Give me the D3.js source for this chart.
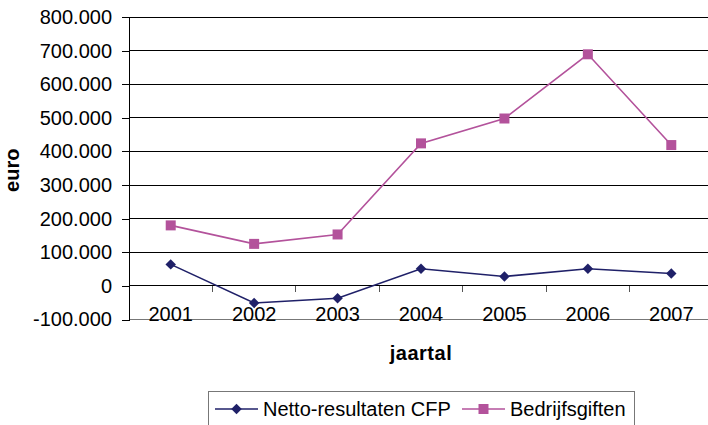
<!DOCTYPE html>
<html lang="nl">
<head>
<meta charset="UTF-8">
<title>Netto-resultaten CFP en Bedrijfsgiften</title>
<style>
    body { margin: 0; background: #ffffff; overflow: hidden; }
    svg { display: block; font-family: 'Liberation Sans', Arial, sans-serif; }
    .tick text { fill: #000; }
</style>
<script src="https://d3js.org/d3.v7.min.js"></script>
</head>
<body>
<svg id="chart" width="708" height="425"></svg>
<script>
    // data
    const years = ["2001", "2002", "2003", "2004", "2005", "2006", "2007"];
    const netto = [64000, -51000, -37000, 51000, 28000, 51000, 37000];
    const giften = [180000, 125000, 153000, 424000, 498000, 689000, 419000];
    const yTicks = [-100000, 0, 100000, 200000, 300000, 400000, 500000, 600000, 700000, 800000];
    const seriesNames = ["Netto-resultaten CFP", "Bedrijfsgiften"];

    const navy = "#1f2068", pink = "#b3529b";

    const svg = d3.select("#chart");
    const plotLeft = 129, plotRight = 713, plotTop = 17, plotBottom = 319.5;

    const x = d3.scaleBand().domain(years).range([plotLeft, plotRight]);
    const y = d3.scaleLinear().domain([-100000, 800000]).range([plotBottom, plotTop]);

    // dutch style thousands, plain hyphen for negatives
    const fmt = v => v === 0 ? "0" : (v < 0 ? "-" : "") + d3.format(",")(Math.abs(v)).replace(/,/g, ".");

    // horizontal gridlines
    svg.append("g")
        .selectAll("line")
        .data(yTicks.filter(v => v !== -100000))
        .enter().append("line")
        .attr("x1", plotLeft).attr("x2", plotRight)
        .attr("y1", d => y(d)).attr("y2", d => y(d))
        .attr("stroke", "#000").attr("stroke-width", 1)
        .attr("shape-rendering", "crispEdges");

    // bottom frame line
    svg.append("line")
        .attr("x1", plotLeft).attr("x2", plotRight)
        .attr("y1", plotBottom).attr("y2", plotBottom)
        .attr("stroke", "#777").attr("stroke-width", 1)
        .attr("shape-rendering", "crispEdges");

    // y axis
    const yAxis = svg.append("g")
        .attr("transform", `translate(${plotLeft},0)`)
        .call(d3.axisLeft(y).tickValues(yTicks).tickFormat(fmt).tickSize(7).tickPadding(10));
    yAxis.select(".domain").attr("stroke", "#000").attr("shape-rendering", "crispEdges");
    yAxis.selectAll(".tick line").attr("stroke", "#000").attr("shape-rendering", "crispEdges");
    yAxis.selectAll(".tick text").attr("font-size", 20).attr("font-family", "'Liberation Sans', Arial, sans-serif");

    // tick marks between categories, hanging below the zero line
    svg.append("g")
        .selectAll("line")
        .data(years.slice(1))
        .enter().append("line")
        .attr("x1", d => x(d)).attr("x2", d => x(d))
        .attr("y1", y(0)).attr("y2", y(0) + 6)
        .attr("stroke", "#555").attr("shape-rendering", "crispEdges");

    // category labels
    svg.append("g")
        .selectAll("text")
        .data(years)
        .enter().append("text")
        .attr("x", d => x(d) + x.bandwidth() / 2)
        .attr("y", 321)
        .attr("text-anchor", "middle")
        .attr("font-size", 20)
        .text(d => d);

    // axis titles
    svg.append("text")
        .attr("transform", `translate(19,${(plotTop + plotBottom) / 2 + 2}) rotate(-90)`)
        .attr("text-anchor", "middle")
        .attr("font-size", 20).attr("font-weight", "bold")
        .text("euro");
    svg.append("text")
        .attr("x", (plotLeft + plotRight) / 2).attr("y", 360)
        .attr("text-anchor", "middle")
        .attr("font-size", 20).attr("font-weight", "bold")
        .attr("letter-spacing", 0.5)
        .text("jaartal");

    const cx = d => x(d) + x.bandwidth() / 2;
    const line = d3.line().x(d => cx(d.year)).y(d => y(d.value));
    const diamond = d3.symbol().type(d3.symbolDiamond2).size(70);
    const square = d3.symbol().type(d3.symbolSquare).size(100);

    const series = [
        { name: seriesNames[0], color: navy, values: netto, sym: diamond },
        { name: seriesNames[1], color: pink, values: giften, sym: square }
    ];

    series.forEach(s => {
        const pts = years.map((yr, i) => ({ year: yr, value: s.values[i] }));
        svg.append("path")
            .datum(pts)
            .attr("d", line)
            .attr("fill", "none")
            .attr("stroke", s.color)
            .attr("stroke-width", 1.6);
        svg.append("g")
            .selectAll("path")
            .data(pts)
            .enter().append("path")
            .attr("d", s.sym())
            .attr("transform", d => `translate(${cx(d.year)},${y(d.value)})`)
            .attr("fill", s.color);
    });

    // legend
    const legend = svg.append("g");
    legend.append("rect")
        .attr("x", 208.5).attr("y", 391.5)
        .attr("width", 426).attr("height", 40)
        .attr("fill", "#fff").attr("stroke", "#777");
    const items = [
        { x0: 215, tx: 263, s: series[0] },
        { x0: 462, tx: 510, s: series[1] }
    ];
    items.forEach(it => {
        legend.append("line")
            .attr("x1", it.x0).attr("x2", it.x0 + 43)
            .attr("y1", 409).attr("y2", 409)
            .attr("stroke", it.s.color).attr("stroke-width", 1.6);
        legend.append("path")
            .attr("d", it.s.sym())
            .attr("transform", `translate(${it.x0 + 21.5},409)`)
            .attr("fill", it.s.color);
        legend.append("text")
            .attr("x", it.tx).attr("y", 409)
            .attr("dy", "0.35em")
            .attr("font-size", 20)
            .text(it.s.name);
    });
</script>
</body>
</html>
